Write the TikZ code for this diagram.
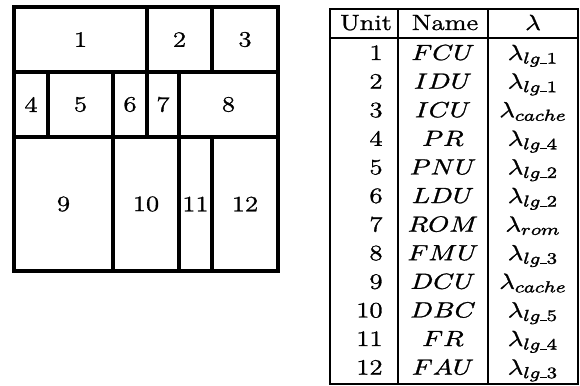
\documentclass[tikz,border=0pt]{standalone}
\usepackage{graphicx}
\usetikzlibrary{calc}
\newcommand\hs[1]{\special{pdf:literal direct 2 Tr 0.12 w}\scalebox{1.22}[1]{#1}\special{pdf:literal direct 0 Tr}}
\newcommand\us{\rule{2.6pt}{0.45pt}}
\tikzset{
  blk/.style={line width=1.6pt, line join=miter},
  lbl/.style={inner sep=0pt, font=\fontsize{11}{13}\selectfont},
  tline/.style={line width=0.6pt},
  tframe/.style={line width=1pt},
}
\newcommand\cellbox[6]{%
  \draw[blk] (#2,#3) rectangle (#4,#5);
  \node[lbl] (#1) at ($(#2,#3)!0.5!(#4,#5)$) {\hs{#6}};}
\begin{document}
\begin{tikzpicture}[x=0.5pt,y=-0.5pt]
\useasboundingbox (0,0) rectangle (580,386);
% floorplan
\cellbox{c1}{14}{7}{147}{72}{1}
\cellbox{c2}{147}{7}{212}{72}{2}
\cellbox{c3}{212}{7}{278}{72}{3}
\cellbox{c4}{14}{72}{48}{137}{4}
\cellbox{c5}{48}{72}{113}{137}{5}
\cellbox{c6}{113}{72}{147}{137}{6}
\cellbox{c7}{147}{72}{179}{137}{7}
\cellbox{c8}{179}{72}{278}{137}{8}
\cellbox{c9}{14}{137}{113}{271}{9}
\cellbox{c10}{113}{137}{179}{271}{10}
\cellbox{c11}{179}{137}{212}{271}{11}
\cellbox{c12}{212}{137}{278}{271}{12}
% table frame
\draw[tframe] (330,9) rectangle (578,384);
\draw[tline] (398,9) -- (398,384);
\draw[tline] (488,9) -- (488,384);
\draw[tframe] (330,38) -- (578,38);
% header
\node[lbl, anchor=base] (hu) at (366,30) {\hs{Unit}};
\node[lbl, anchor=base] (hn) at (445,30) {\hs{Name}};
\node[lbl, anchor=base] (hl) at (533,30) {\hs{$\lambda$}};
% rows
\foreach \u/\n/\l [count=\i from 0] in {
  1/FCU/{lg\us1}, 2/IDU/{lg\us1}, 3/ICU/{cache}, 4/PR/{lg\us4},
  5/PNU/{lg\us2}, 6/LDU/{lg\us2}, 7/ROM/{rom}, 8/FMU/{lg\us3},
  9/DCU/{cache}, 10/DBC/{lg\us5}, 11/FR/{lg\us4}, 12/FAU/{lg\us3}} {
  \pgfmathsetmacro\yb{60+28.6*\i}
  \node[lbl, anchor=base east] (u\u) at (383,\yb) {\hs{\u}};
  \node[lbl, anchor=base] (n\u) at (443,\yb) {\hs{$\n$}};
  \node[lbl, anchor=base] (l\u) at (533,\yb) {\hs{$\lambda_{\l}$}};
}
\end{tikzpicture}
\end{document}
